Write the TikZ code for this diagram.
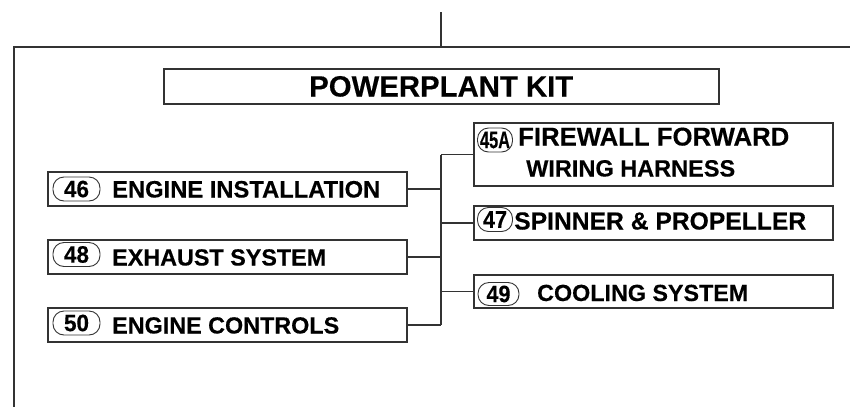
\documentclass[tikz,border=0pt]{standalone}
\usepackage{fontspec}
\usepackage{graphicx}
\setmainfont{Liberation Sans}
\newfontface\heavy{Liberation Sans Bold}[FakeBold=0.3]
\newcommand\fitt[2]{\resizebox{#1pt}{!}{\heavy #2}}
\newcommand\fitn[2]{\resizebox{#1pt}{16.5pt}{\heavy #2}}
\begin{document}
\begin{tikzpicture}[x=1pt,y=-1pt,
  line/.style={draw=black!80,line width=1.1pt},
  box/.style={line,rectangle,inner sep=0pt,minimum width=359pt},
  oval/.style={line,rectangle,rounded corners=11pt,inner sep=0pt,minimum height=24pt,line width=0.9pt},
  lbl/.style={anchor=base west,inner sep=0pt,text=black},
  num/.style={inner sep=0pt,text=black}]
\useasboundingbox (0,0) rectangle (850,407);
% frame
\coordinate (ftr) at (850,47);
\coordinate (ftl) at (14,47);
\coordinate (fbl) at (14,407);
\coordinate (topend) at (441,12);
\draw[line] (ftr) -- (ftl) -- (fbl);
\draw[line] (topend) -- (topend |- ftl);
% title
\node[line,rectangle,inner sep=0pt,minimum width=555pt,minimum height=35pt] (title) at (441.5,86.5) {};
\node[lbl] (titletxt) at (309,96.5) {\fitt{264}{POWERPLANT KIT}};
% left boxes
\node[box,minimum height=34pt] (b46) at (227.5,189) {};
\node[box,minimum height=34pt] (b48) at (227.5,257) {};
\node[box,minimum height=34pt] (b50) at (227.5,325) {};
\node[oval,minimum width=47pt] (o46) at (76.5,189) {};
\node[oval,minimum width=47pt] (o48) at (76.5,254.5) {};
\node[oval,minimum width=47pt] (o50) at (76.5,323) {};
\node[num] (n46) at (o46) {\fitn{25}{46}};
\node[num] (n48) at (o48) {\fitn{25}{48}};
\node[num] (n50) at (o50) {\fitn{25}{50}};
\node[lbl] (t46) at (112,197.5) {\fitt{268}{ENGINE INSTALLATION}};
\node[lbl] (t48) at (112,265.5) {\fitt{214}{EXHAUST SYSTEM}};
\node[lbl] (t50) at (112,333.5) {\fitt{227}{ENGINE CONTROLS}};
% right boxes
\node[box,minimum height=63pt] (b45) at (653.5,154.5) {};
\node[box,minimum height=34pt] (b47) at (653.5,223) {};
\node[box,minimum height=33pt] (b49) at (653.5,291.5) {};
\node[oval,minimum width=35pt] (o45) at (495,140) {};
\node[oval,minimum width=35pt] (o47) at (495,219.5) {};
\node[oval,minimum width=41pt,minimum height=23pt] (o49) at (498.5,294) {};
\node[num] (n45) at (o45) {\fitn{30}{45A}};
\node[num] (n47) at (o47) {\fitn{24}{47}};
\node[num] (n49) at (o49) {\fitn{24}{49}};
\node[lbl] (t45a) at (518,145.5) {\fitt{271}{FIREWALL FORWARD}};
\node[lbl] (t45b) at (526,176.5) {\fitt{209}{WIRING HARNESS}};
\node[lbl] (t47) at (514,229.5) {\fitt{292}{SPINNER \& PROPELLER}};
\node[lbl] (t49) at (537,301) {\fitt{211}{COOLING SYSTEM}};
% bus and connectors
\coordinate (bustop) at (441,154.5);
\coordinate (busbot) at (441,325);
\draw[line] (bustop) -- (busbot);
\draw[line] (b46.east) -- (b46.east -| bustop);
\draw[line] (b48.east) -- (b48.east -| bustop);
\draw[line] (b50.east) -- (b50.east -| bustop);
\draw[line] (b45.west) -- (b45.west -| bustop);
\draw[line] (b47.west) -- (b47.west -| bustop);
\draw[line] (b49.west) -- (b49.west -| bustop);
\end{tikzpicture}
\end{document}
